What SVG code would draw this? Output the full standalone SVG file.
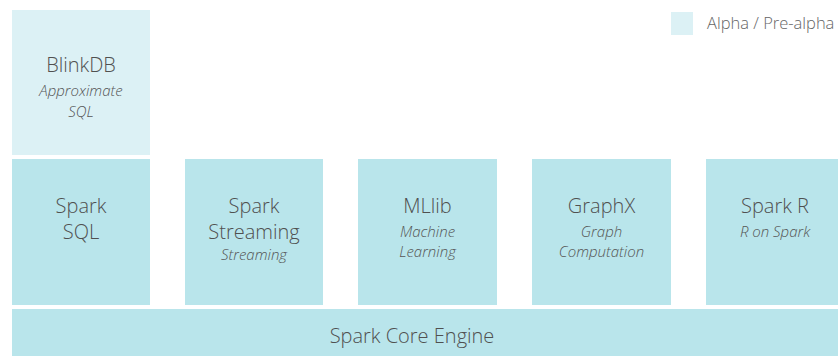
<svg xmlns="http://www.w3.org/2000/svg" width="838" height="356" viewBox="0 0 838 356">
<style>
.alpha{fill:#dcf1f5}
.box{fill:#b9e5eb}
.t{font-family:"Open Sans","Noto Sans",sans-serif;font-weight:300;fill:#505050;text-anchor:middle;font-size:20px}
.s{font-family:"Open Sans","Noto Sans",sans-serif;font-weight:300;font-style:italic;fill:#555;text-anchor:middle;font-size:15px}
.l{font-family:"Open Sans","Noto Sans",sans-serif;font-weight:300;fill:#666;font-size:16.5px}
</style>
<rect width="838" height="356" fill="#fff"/>
<g id="legend">
<rect class="alpha" x="671" y="12" width="22" height="23"/>
<text class="l" x="707" y="29">Alpha / Pre-alpha</text>
</g>
<g id="blinkdb">
<rect class="alpha" x="12" y="10" width="138" height="145"/>
<text class="t" x="81" y="72">BlinkDB</text>
<text class="s" x="81" y="96">Approximate</text>
<text class="s" x="81" y="117">SQL</text>
</g>
<g id="sparksql">
<rect class="box" x="12" y="159" width="138" height="146"/>
<text class="t" x="81" y="213">Spark</text>
<text class="t" x="81" y="239">SQL</text>
</g>
<g id="streaming">
<rect class="box" x="185" y="159" width="138" height="146"/>
<text class="t" x="254" y="213">Spark</text>
<text class="t" x="254" y="239">Streaming</text>
<text class="s" x="254" y="260">Streaming</text>
</g>
<g id="mllib">
<rect class="box" x="358" y="159" width="139" height="146"/>
<text class="t" x="427.5" y="213">MLlib</text>
<text class="s" x="427.5" y="237">Machine</text>
<text class="s" x="427.5" y="257">Learning</text>
</g>
<g id="graphx">
<rect class="box" x="532" y="159" width="139" height="146"/>
<text class="t" x="601.5" y="213">GraphX</text>
<text class="s" x="601.5" y="237">Graph</text>
<text class="s" x="601.5" y="257">Computation</text>
</g>
<g id="sparkr">
<rect class="box" x="706" y="159" width="138" height="146"/>
<text class="t" x="775" y="213">Spark R</text>
<text class="s" x="775" y="237">R on Spark</text>
</g>
<g id="core">
<rect class="box" x="12" y="309" width="832" height="47"/>
<text class="t" x="412" y="343">Spark Core Engine</text>
</g>
<g id="connectors"/>
</svg>
